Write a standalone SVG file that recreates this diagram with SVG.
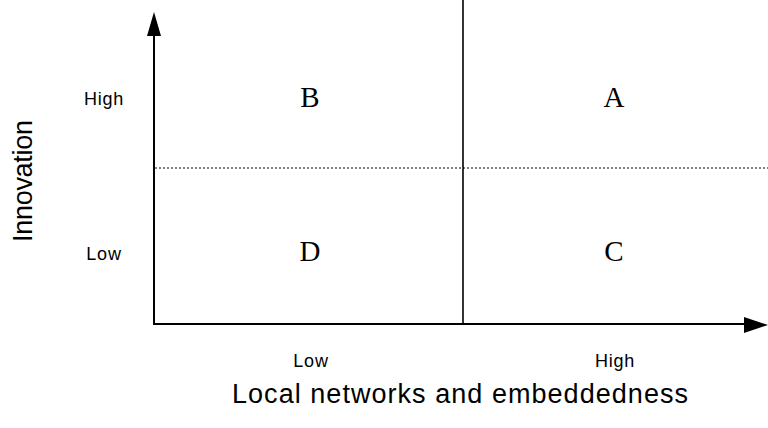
<svg xmlns="http://www.w3.org/2000/svg" width="768" height="428" viewBox="0 0 768 428">
<style>
.ax{stroke:#000;stroke-width:2;fill:none}
.lbl{font-family:"Liberation Sans",Arial,sans-serif;font-size:18px;fill:#000;text-anchor:middle;letter-spacing:0.8px}
.big{font-family:"Liberation Sans",Arial,sans-serif;font-size:27px;fill:#000;text-anchor:middle}
.q{font-family:"Liberation Serif","Times New Roman",serif;font-size:29px;fill:#000;text-anchor:middle}
</style>
<rect width="768" height="428" fill="#fff"/>
<g id="connectors">
<line class="ax" x1="154" y1="30" x2="154" y2="324"/>
<polygon points="154,12 147,36 161,36" fill="#000"/>
<line class="ax" x1="153" y1="324" x2="748" y2="324"/>
<polygon points="768,325 744,317 744,333" fill="#000"/>
<line x1="463" y1="0" x2="463" y2="324" stroke="#000" stroke-width="1.6"/>
<line x1="155" y1="168" x2="768" y2="168" stroke="#000" stroke-width="1" stroke-dasharray="2,2"/>
</g>
<g id="quadB"><text class="q" x="310" y="107">B</text></g>
<g id="quadA"><text class="q" x="614" y="107">A</text></g>
<g id="quadD"><text class="q" x="310" y="261">D</text></g>
<g id="quadC"><text class="q" x="614" y="261">C</text></g>
<g id="ylabels">
<text class="lbl" x="104" y="105">High</text>
<text class="lbl" x="104" y="260">Low</text>
</g>
<g id="xlabels">
<text class="lbl" x="311" y="367">Low</text>
<text class="lbl" x="615" y="367">High</text>
</g>
<g id="titles">
<text class="big" x="460" y="403" textLength="456" lengthAdjust="spacing">Local networks and embeddedness</text>
<text class="big" transform="translate(32,181) rotate(-90)" textLength="122" lengthAdjust="spacing">Innovation</text>
</g>
</svg>
